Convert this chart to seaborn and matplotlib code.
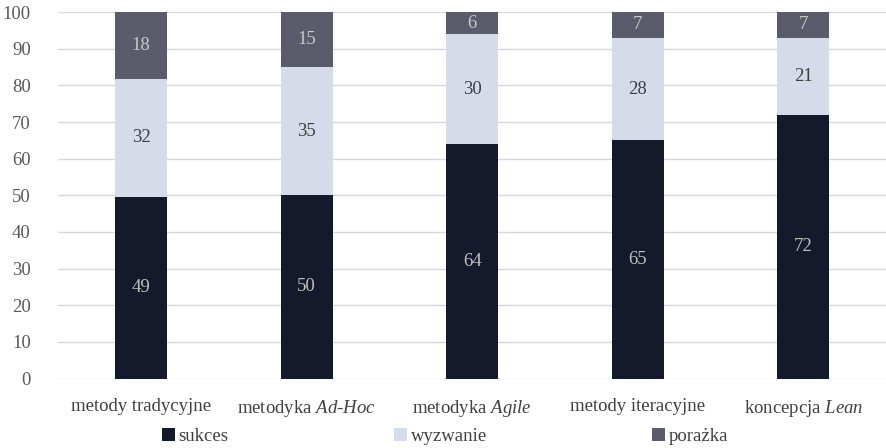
import numpy as np
import pandas as pd
import seaborn as sns
import matplotlib.pyplot as plt

# data (100% stacked chart, labels show rounded shares)
categories = ["metody tradycyjne", "metodyka Ad-Hoc", "metodyka Agile",
              "metody iteracyjne", "koncepcja Lean"]
tick_labels = ["metody tradycyjne", r"metodyka $\mathit{Ad}$-$\mathit{Hoc}$",
               r"metodyka $\mathit{Agile}$", "metody iteracyjne",
               r"koncepcja $\mathit{Lean}$"]
sukces = [49, 50, 64, 65, 72]
wyzwanie = [32, 35, 30, 28, 21]
porazka = [18, 15, 6, 7, 7]

colors = {"sukces": "#141a2b", "wyzwanie": "#d6dbea", "porażka": "#5b5c6b"}
label_colors = {"sukces": "#bfbfbf", "wyzwanie": "#404040", "porażka": "#c8c8c8"}

sns.set_theme(style="white")
plt.rcParams['font.family'] = ['Liberation Serif', 'DejaVu Serif']
plt.rcParams['mathtext.fontset'] = 'custom'
plt.rcParams['mathtext.rm'] = 'Liberation Serif'
plt.rcParams['mathtext.it'] = 'Liberation Serif:italic'

df = pd.DataFrame({"kategoria": categories, "sukces": sukces,
                   "wyzwanie": wyzwanie, "porażka": porazka})
total = df["sukces"] + df["wyzwanie"] + df["porażka"]
for n in ["sukces", "wyzwanie", "porażka"]:
    df["p_" + n] = df[n] / total * 100
df["s1"] = df["p_sukces"]
df["s2"] = df["s1"] + df["p_wyzwanie"]
df["s3"] = df["s2"] + df["p_porażka"]

fig, ax = plt.subplots(figsize=(8.86, 4.48), dpi=100)
fig.subplots_adjust(left=0.066, right=1.0, top=0.973, bottom=0.155)

# stacked via overlapping cumulative bars
for col, name in [("s3", "porażka"), ("s2", "wyzwanie"), ("s1", "sukces")]:
    sns.barplot(data=df, x="kategoria", y=col, color=colors[name], width=0.315,
                saturation=1, ax=ax, label=name, zorder=3, linewidth=0)

# value labels
for i in range(len(categories)):
    bottom = 0
    for name in ["sukces", "wyzwanie", "porażka"]:
        p = df["p_" + name][i]
        ax.text(i, bottom + p / 2, str(df[name][i]), ha="center", va="center",
                fontsize=13.5, color=label_colors[name], zorder=4)
        bottom += p

ax.set_ylim(0, 100)
ax.set_yticks(range(0, 101, 10))
ax.yaxis.grid(True, color="#d9d9d9", linewidth=1, zorder=0)
ax.set_axisbelow(True)
ax.set_xlabel("")
ax.set_ylabel("")
ax.set_xticks(range(len(categories)))
ax.set_xticklabels(tick_labels)
ax.tick_params(axis="x", labelsize=13.5, colors="#404040", length=0, pad=14)
ax.tick_params(axis="y", labelsize=13.5, colors="#595959", length=0, pad=20)
for s in ax.spines.values():
    s.set_visible(False)

# legend in sukces, wyzwanie, porażka order
handles, labels = ax.get_legend_handles_labels()
order = [labels.index(n) for n in ["sukces", "wyzwanie", "porażka"]]
ax.legend([handles[k] for k in order], [labels[k] for k in order],
          loc="upper center", bbox_to_anchor=(0.467, -0.088), ncol=3,
          frameon=False, fontsize=13.5, handlelength=0.7, handleheight=0.7,
          handletextpad=0.2, columnspacing=8.8, labelcolor="#404040")

plt.savefig("out.png")
